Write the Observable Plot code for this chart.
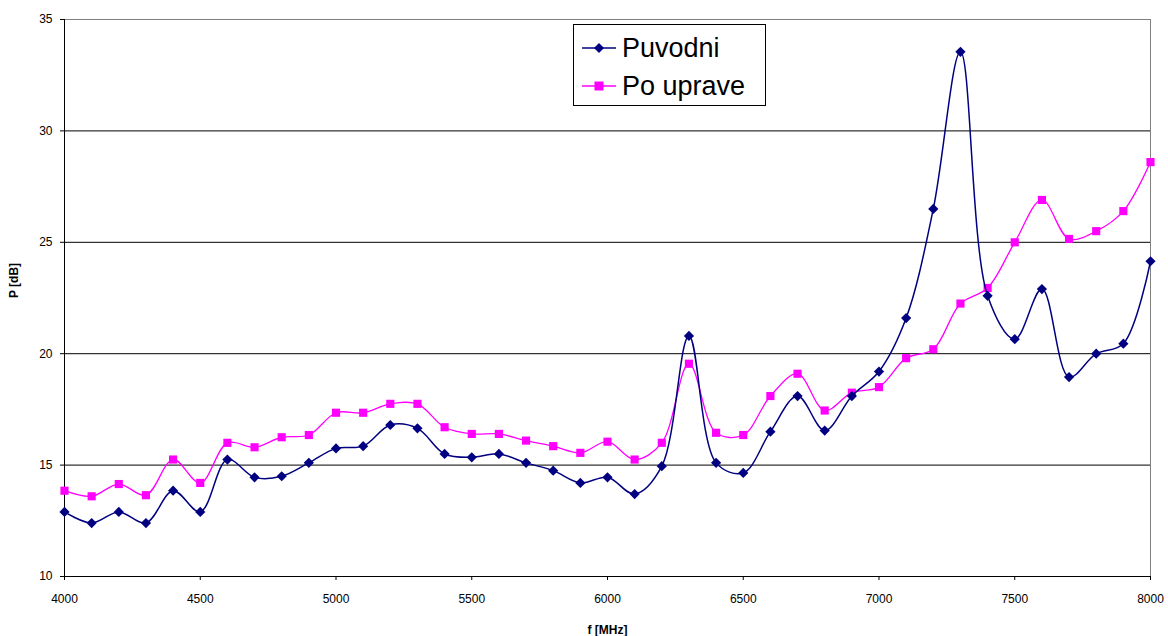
<!DOCTYPE html>
<html>
<head>
<meta charset="utf-8">
<script src="https://cdn.jsdelivr.net/npm/d3@7"></script>
<script src="https://cdn.jsdelivr.net/npm/@observablehq/plot@0.6"></script>
<style>
  html, body { margin: 0; padding: 0; background: #fff; }
  #wrap { position: relative; width: 1168px; height: 636px; font-family: "Liberation Sans", Arial, sans-serif; }
  #legend { position: absolute; left: 573px; top: 24px; width: 193px; height: 82px; border: 1px solid #000; background: #fff; box-sizing: border-box; }
  .item { position: absolute; left: 8px; height: 30px; display: flex; align-items: center; font-size: 27px; line-height: 30px; color: #000; }
  .item svg { margin-right: 6px; }
</style>
</head>
<body>
<div id="wrap"></div>
<script>
const freqs = [4000,4100,4200,4300,4400,4500,4600,4700,4800,4900,5000,5100,5200,5300,5400,5500,5600,5700,5800,5900,6000,6100,6200,6300,6400,6500,6600,6700,6800,6900,7000,7100,7200,7300,7400,7500,7600,7700,7800,7900,8000];
const puvodni = [12.9,12.4,12.9,12.4,13.85,12.9,15.25,14.45,14.5,15.1,15.75,15.85,16.8,16.65,15.5,15.35,15.5,15.1,14.75,14.2,14.45,13.7,14.95,20.8,15.1,14.65,16.5,18.1,16.55,18.1,19.2,21.6,26.5,33.55,22.6,20.65,22.9,18.95,20.0,20.45,24.15];
const poUprave = [13.85,13.6,14.15,13.65,15.25,14.2,16.0,15.8,16.25,16.35,17.35,17.35,17.75,17.75,16.7,16.4,16.4,16.1,15.85,15.55,16.05,15.25,16.0,19.55,16.45,16.35,18.1,19.1,17.45,18.25,18.5,19.8,20.2,22.25,22.95,25.0,26.9,25.15,25.5,26.4,28.6];
const xTicks = [4000,4500,5000,5500,6000,6500,7000,7500,8000];
const yTicks = [10,15,20,25,30,35];
const gridValues = [15,20,25,30];
const seriesNames = ["Puvodni", "Po uprave"];
const seriesColors = ["#000080", "#FF00FF"];

const dataA = freqs.map((f, i) => ({f, v: puvodni[i]}));
const dataB = freqs.map((f, i) => ({f, v: poUprave[i]}));

const chart = Plot.plot({
  width: 1168,
  height: 636,
  marginLeft: 64,
  marginRight: 18,
  marginTop: 19,
  marginBottom: 60,
  style: { fontFamily: "Liberation Sans, Arial, sans-serif", fontSize: "12px", background: "#fff" },
  x: { domain: [4000, 8000], label: null },
  y: { domain: [10, 35], label: null },
  marks: [
    Plot.frame({ stroke: "#808080" }),
    Plot.ruleY(gridValues, { stroke: "#000", strokeWidth: 1 }),
    Plot.axisX({ ticks: xTicks, tickFormat: d => String(d), tickSize: 4, tickPadding: 14, stroke: "#000", fontSize: 12, color: "#000", label: null }),
    Plot.axisY({ ticks: yTicks, tickFormat: d => String(d), tickSize: 4, tickPadding: 8, stroke: "#000", fontSize: 12, color: "#000", label: null }),
    Plot.ruleX([4000], { stroke: "#000" }),
    Plot.ruleY([10], { stroke: "#000" }),
    Plot.line(dataB, { x: "f", y: "v", stroke: seriesColors[1], strokeWidth: 1.3, curve: "catmull-rom" }),
    Plot.dot(dataB, { x: "f", y: "v", symbol: "square", fill: seriesColors[1], stroke: "none", r: 4.6 }),
    Plot.line(dataA, { x: "f", y: "v", stroke: seriesColors[0], strokeWidth: 1.5, curve: "catmull-rom" }),
    Plot.dot(dataA, { x: "f", y: "v", symbol: "diamond2", fill: seriesColors[0], stroke: "none", r: 4.6 }),
    Plot.text(["f [MHz]"], { frameAnchor: "bottom", dy: 57, fontWeight: "bold", fontSize: 12, fill: "#000" }),
    Plot.text(["P [dB]"], { frameAnchor: "left", dx: -50, rotate: -90, fontWeight: "bold", fontSize: 12, fill: "#000" })
  ]
});

const wrap = document.getElementById("wrap");
wrap.appendChild(chart);

const legend = document.createElement("div");
legend.id = "legend";
const shapes = [
  c => `<polygon points="17,2 22,7 17,12 12,7" fill="${c}"/>`,
  c => `<rect x="12.5" y="2.5" width="9" height="9" fill="${c}"/>`
];
seriesNames.forEach((name, i) => {
  const item = document.createElement("div");
  item.className = "item";
  item.style.top = (i === 0 ? 8 : 46) + "px";
  item.innerHTML = `<svg width="34" height="14"><line x1="0" y1="7" x2="34" y2="7" stroke="${seriesColors[i]}" stroke-width="1.5"/>${shapes[i](seriesColors[i])}</svg><span>${name}</span>`;
  legend.appendChild(item);
});
wrap.appendChild(legend);
</script>
</body>
</html>
